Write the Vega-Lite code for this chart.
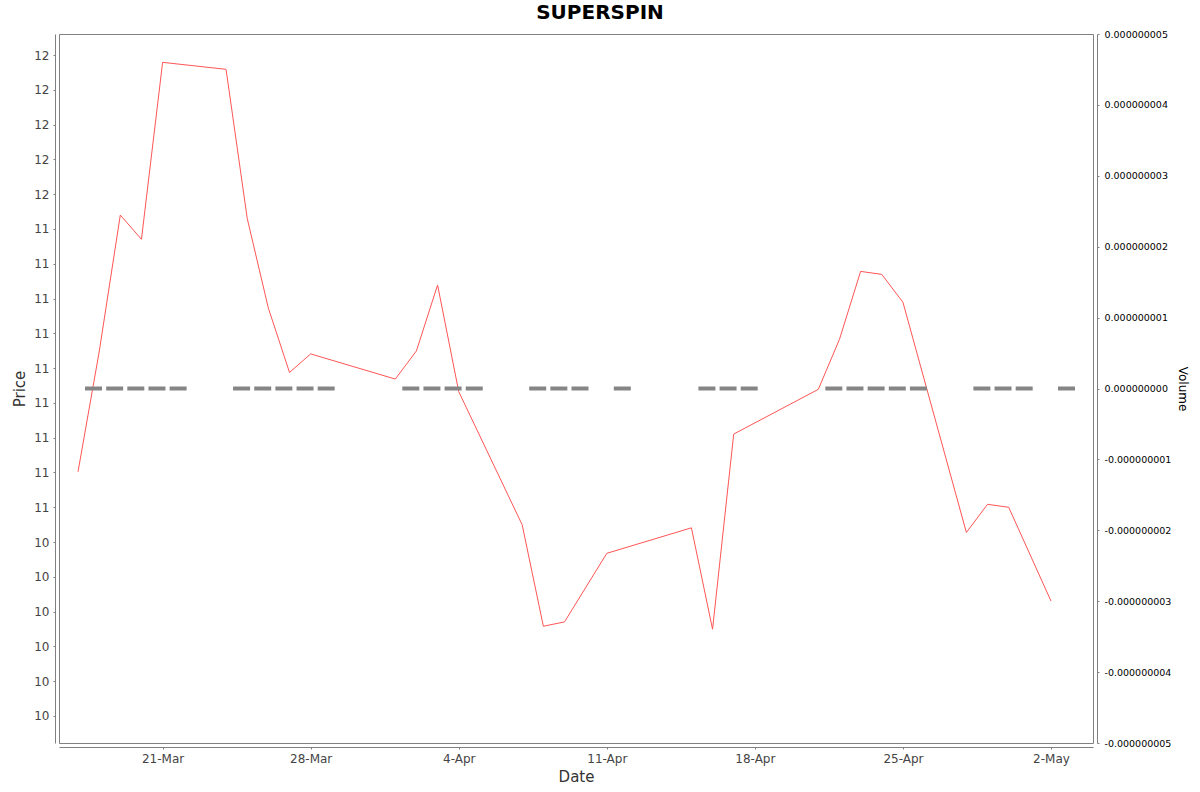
{
  "$schema": "https://vega.github.io/schema/vega-lite/v6.json",
  "width": 1034,
  "height": 709,
  "autosize": {"type": "none"},
  "padding": {"left": 59, "top": 34, "right": 107, "bottom": 49},
  "background": "white",
  "title": {
    "text": "SUPERSPIN",
    "font": "DejaVu Sans",
    "fontSize": 20,
    "fontWeight": "bold",
    "color": "#000000",
    "anchor": "middle",
    "dx": 24,
    "offset": 6
  },
  "config": {
    "view": {"stroke": "#808080", "strokeWidth": 1},
    "axis": {
      "labelFont": "DejaVu Sans",
      "titleFont": "DejaVu Sans",
      "domainColor": "#808080",
      "tickColor": "#808080",
      "grid": false
    }
  },
  "data": {
    "values": [
      {"date": "2024-03-17", "price": 10.687, "volume": 0},
      {"date": "2024-03-18", "price": 11.049, "volume": 0},
      {"date": "2024-03-19", "price": 11.462, "volume": 0},
      {"date": "2024-03-20", "price": 11.389, "volume": 0},
      {"date": "2024-03-21", "price": 11.923, "volume": 0},
      {"date": "2024-03-24", "price": 11.902, "volume": 0},
      {"date": "2024-03-25", "price": 11.452, "volume": 0},
      {"date": "2024-03-26", "price": 11.181, "volume": 0},
      {"date": "2024-03-27", "price": 10.987, "volume": 0},
      {"date": "2024-03-28", "price": 11.043, "volume": 0},
      {"date": "2024-04-01", "price": 10.967, "volume": 0},
      {"date": "2024-04-02", "price": 11.052, "volume": 0},
      {"date": "2024-04-03", "price": 11.251, "volume": 0},
      {"date": "2024-04-04", "price": 10.929, "volume": 0},
      {"date": "2024-04-07", "price": 10.527, "volume": 0},
      {"date": "2024-04-08", "price": 10.221, "volume": 0},
      {"date": "2024-04-09", "price": 10.234, "volume": 0},
      {"date": "2024-04-11", "price": 10.441, "volume": 0},
      {"date": "2024-04-15", "price": 10.518, "volume": 0},
      {"date": "2024-04-16", "price": 10.212, "volume": 0},
      {"date": "2024-04-17", "price": 10.801, "volume": 0},
      {"date": "2024-04-21", "price": 10.936, "volume": 0},
      {"date": "2024-04-22", "price": 11.087, "volume": 0},
      {"date": "2024-04-23", "price": 11.292, "volume": 0},
      {"date": "2024-04-24", "price": 11.283, "volume": 0},
      {"date": "2024-04-25", "price": 11.199, "volume": 0},
      {"date": "2024-04-28", "price": 10.504, "volume": 0},
      {"date": "2024-04-29", "price": 10.589, "volume": 0},
      {"date": "2024-04-30", "price": 10.58, "volume": 0},
      {"date": "2024-05-02", "price": 10.297, "volume": 0}
    ]
  },
  "encoding": {
    "x": {
      "field": "date",
      "type": "temporal",
      "scale": {
        "type": "utc",
        "domain": [
          {"utc": true, "year": 2024, "month": 3, "date": 16, "hours": 2, "minutes": 26},
          {"utc": true, "year": 2024, "month": 5, "date": 3, "hours": 23, "minutes": 40}
        ]
      },
      "axis": {
        "title": "Date",
        "offset": 4,
        "values": [
          {"utc": true, "year": 2024, "month": 3, "date": 21},
          {"utc": true, "year": 2024, "month": 3, "date": 28},
          {"utc": true, "year": 2024, "month": 4, "date": 4},
          {"utc": true, "year": 2024, "month": 4, "date": 11},
          {"utc": true, "year": 2024, "month": 4, "date": 18},
          {"utc": true, "year": 2024, "month": 4, "date": 25},
          {"utc": true, "year": 2024, "month": 5, "date": 2}
        ],
        "format": "%-d-%b",
        "tickSize": 2,
        "labelPadding": 4,
        "labelFontSize": 12,
        "labelColor": "#444444",
        "titleFontSize": 15,
        "titleFontWeight": "normal",
        "titleColor": "#333333",
        "titlePadding": 5
      }
    }
  },
  "layer": [
    {
      "mark": {"type": "line", "color": "#ff5555", "strokeWidth": 1, "clip": true},
      "encoding": {
        "y": {
          "field": "price",
          "type": "quantitative",
          "scale": {"domain": [9.8685, 12.0086], "nice": false, "zero": false},
          "axis": {
            "title": "Price",
            "orient": "left",
            "offset": 4,
            "values": [9.95, 10.055, 10.16, 10.265, 10.37, 10.475, 10.58, 10.685, 10.79, 10.895, 11.0, 11.105, 11.21, 11.315, 11.42, 11.525, 11.63, 11.735, 11.84, 11.945],
            "format": ".0f",
            "tickSize": 2,
            "labelPadding": 4,
            "labelFontSize": 12,
            "labelColor": "#444444",
            "titleFontSize": 15,
            "titleFontWeight": "normal",
            "titleColor": "#333333",
            "titlePadding": 6
          }
        }
      }
    },
    {
      "mark": {"type": "tick", "orient": "horizontal", "color": "#858585", "size": 17, "thickness": 4, "opacity": 1, "xOffset": 15.5},
      "encoding": {
        "y": {
          "field": "volume",
          "type": "quantitative",
          "scale": {"domain": [-0.000000005, 0.000000005], "nice": false},
          "axis": {
            "title": "Volume",
            "orient": "right",
            "offset": 4,
            "values": [-0.000000005, -0.000000004, -0.000000003, -0.000000002, -0.000000001, 0, 0.000000001, 0.000000002, 0.000000003, 0.000000004, 0.000000005],
            "labelExpr": "replace(format(datum.value, '.9f'), '\u2212', '-')",
            "tickSize": 2,
            "labelPadding": 5,
            "labelFontSize": 9.5,
            "labelColor": "#000000",
            "titleFontSize": 12,
            "titleFontWeight": "normal",
            "titleColor": "#000000",
            "titlePadding": 5
          }
        }
      }
    }
  ],
  "resolve": {"scale": {"y": "independent"}}
}
